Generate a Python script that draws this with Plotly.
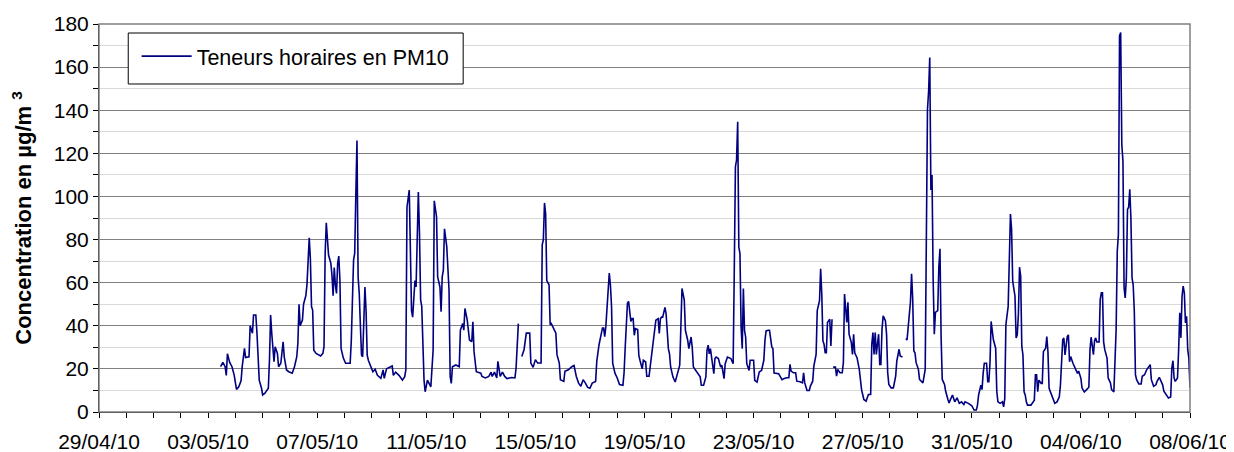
import pandas as pd
import plotly.graph_objects as go

# Hours since 29/04/2010 00:00 and hourly PM10 concentrations (µg/m3); None = missing data
hours = [107, 109, 111, 112, 113, 114, 115, 117, 119, 120, 121, 123, 125, 126, 128, 129, 132, 133, 135, 136,
         138, 139, 140, 141, 143, 144, 146, 149, 150, 151, 152, 154, 155, 157, 158, 160, 162, 163, 165, 167,
         170, 172, 174, 175, 176, 177, 179, 180, 182, 183, 185, 186, 187, 188, 189, 191, 195, 197, 198, 199,
         200, 202, 204, 205, 206, 207, 208, 209, 210, 211, 212, 213, 215, 217, 221, 222, 224, 225, 226, 227,
         228, 229, 230, 231, 232, 233, 234, 235, 236, 237, 239, 241, 243, 245, 248, 250, 251, 253, 258, 259,
         261, 264, 267, 269, 270, 271, 273, 274, 275, 276, 278, 279, 280, 281, 282, 283, 284, 286, 287, 289,
         292, 294, 295, 297, 298, 300, 301, 302, 303, 304, 306, 307, 308, 309, 310, 311, 314, 317, 318, 320,
         321, 322, 324, 326, 328, 329, 330, 332, 336, 337, 340, 343, 345, 346, 348, 350, 351, 353, 355, 357,
         359, 363, 366, 367, 368, 369, 370, 372, 374, 376, 379, 380, 382, 384, 386, 389, 390, 391, 392, 393,
         394, 396, 397, 398, 400, 402, 403, 405, 406, 409, 410, 413, 416, 418, 420, 422, 424, 426, 428, 430,
         432, 434, 437, 438, 440, 441, 443, 444, 445, 446, 447, 449, 450, 451, 452, 454, 456, 458, 461, 462,
         463, 464, 465, 466, 468, 469, 470, 471, 472, 474, 475, 476, 478, 479, 481, 482, 484, 485, 487, 488,
         489, 490, 492, 493, 494, 495, 496, 498, 499, 501, 502, 503, 505, 507, 509, 511, 512, 513, 515, 516,
         518, 519, 521, 522, 523, 525, 527, 529, 530, 532, 534, 535, 536, 537, 538, 540, 541, 542, 543, 545,
         547, 548, 550, 551, 553, 556, 558, 559, 560, 561, 562, 563, 564, 565, 566, 567, 568, 569, 570, 572,
         573, 576, 577, 579, 581, 583, 585, 586, 587, 589, 590, 592, 593, 594, 596, 598, 600, 601, 603, 605,
         607, 608, 609, 611, 613, 614, 617, 619, 620, 621, 623, 625, 626, 628, 629, 631, 632, 634, 635, 636,
         637, 638, 639, 640, 641, 643, 644, 645, 645.5, 646, 648, 649, 650, 652, 654, 655, 656, 658, 659, 660,
         662, 663, 664, 665, 667, 669, 670, 671, 673, 675, 677, 679, 680, 681, 682, 683, 684, 686, 687, 688,
         689, 690, 692, 693, 694, 695, 697, 699, 701, 702, 704, 705, 707, 708, 710, 711, 712, 713, 714, 715,
         716, 717, 718, 719, 721, 722, 724, 725, 727, 728, 729, 730, 731, 732, 733, 734, 735, 736, 738, 739,
         740, 741, 742, 744, 745, 747, 748, 749, 751, 753, 755, 757, 759, 761, 762, 765, 768, 770, 772, 773,
         774, 776, 777, 778, 779, 781, 782, 783, 784, 785, 786, 787, 789, 790, 791, 793, 795, 796, 797, 798,
         800, 801, 802, 803, 804, 806, 807, 808, 809, 810, 811, 812, 813, 814, 815, 816, 817, 820, 821, 823,
         824, 825, 826, 827, 829, 830, 831, 833, 834, 835, 836, 837, 839, 841, 843, 845, 846, 848, 849, 850,
         852, 853, 854, 855, 857, 859, 861, 862, 864, 865, 867, 869, 871, 872, 873, 875, 876, 877, 878, 880,
         881, 882, 883, 884, 885, 887, 888, 890, 891, 893, 894, 895, 896, 897, 898, 899, 900, 901, 902, 903,
         904, 905, 906, 907, 908, 909, 910, 911, 912, 913, 915, 917, 918, 920, 922, 924, 925, 926, 928, 930,
         931, 933, 934, 936, 937, 939, 941, 943, 944, 945, 946, 947, 949, 950, 951, 952, 953, 954, 955, 956,
         957, 958, 959, 960]

pm10 = [21, 23, 21, 17, 27, 24, 23, 21, 17, 13.6, 10.5, 11.7, 14.5, 21, 29.5, 25.3, 25.6, 40, 36.5, 45,
        45, 36.5, 27.2, 14.8, 11, 7.9, 8.7, 11, 24, 45, 36.5, 23.3, 30.3, 27.2, 21, 22.6, 32.6, 25.6, 19.5, 18.7,
        18, 21, 25.6, 31.8, 50, 40, 42.7, 50, 54, 59, 80.8, 71, 48.8, 47.3, 28.7, 27.2, 26, 27.2, 30.3, 73.6,
        87.8, 72.8, 69, 63.5, 54, 67, 59, 55, 69, 72.3, 61, 29.5, 25, 22.6, 22.6, 33, 70.5, 73.6, 101, 126,
        62.7, 55, 40, 26.4, 25.6, 41, 58, 47, 26.4, 24, 21, 18.7, 19.8, 17, 15.6, 19.5, 15.6, 20, 21.3, 17,
        18.5, 17, 14.8, 16.4, 19.5, 95, 103, 69, 47, 44, 61, 58, 86, 102, 83, 52, 49, 14.8, 9.4, 14.8,
        11.7, 28.7, 98, 90.6, 62.7, 58, 46.5, 62.7, 65.8, 85, 76.7, 62.7, 56.6, 16.4, 13.3, 21, 21.8, 21, 38, 41,
        38, 48, 42.7, 33.4, 32.6, 41.9, 28, 18.7, 18, 16.5, 15.8, 16.5, 18.5, 16.5, 18.5, 15.8, 23.5, 16.5, 18.5, 16.5,
        15.5, 16, 15.8, 20.4, 34.3, 41, None, 25.8, 28.9, 36.6, 36.6, 22.7, 20.7, 24.3, 22.7, 22.7, 77.6, 80, 97, 92,
        61, 59, 40.5, 41, 39, 36.6, 26.6, 22.7, 15, 14.2, 18.9, 19.6, 21, 21.6, 16.5, 13.4, 11.9, 15, 13.4, 11.4,
        11, 13.4, 14.2, 23.5, 31.2, 33.5, 39, 39, 35, 39.7, 47.4, 64.5, 59, 49, 22.7, 18, 15.8, 12.7, 12.4, 18,
        29.7, 39.7, 50.5, 51.3, 42, 43.3, 43.3, 35.6, 38.7, 38.3, 26.3, 24, 20, 24, 23.2, 16.6, 16.6, 20.9, 29.4, 34,
        37.9, 42.6, 43.3, 36.4, 43.3, 44, 44, 48.5, 45.7, 29.4, 27, 20.9, 16.3, 13.9, 17.8, 21.7, 39.5, 57.3, 51.9, 37.9,
        33.3, 29.4, 34.8, 30, 20.9, 19.3, 17.8, 16.3, 12.4, 12.4, 16.3, 28.6, 31, 27, 29.4, 22.4, 17.8, 24.8, 25.5, 24.8,
        20.9, 21.7, 15.5, 22.4, 25.5, 24.8, 22.4, 65.8, 113.8, 116.9, 134.7, 76.6, 73.5, 39.5, 29.4, 57.3, 37.9, 34.8, 22.4, 19.3,
        24, 24, 14.7, 13.9, 18.6, 19.3, 24, 33.3, 37.6, 37.9, 37.9, 30.2, 29.4, 18.1, 17.8, 17.8, 15.9, 15, 15.5, 15.9,
        15.9, 22.1, 19, 18.2, 18.2, 14.3, 14, 13.5, 18.2, 13.5, 10, 10, 12, 14.3, 21.3, 26.7, 47, 51.6, 66.4, 54.7,
        33, 31.4, 27.5, 27.5, 41.5, 43, 30.6, 43, None, 20.8, 20.8, 16.6, 19.8, 18.2, 18.2, 22.9, 54.7, 41.5, 50.9, 36.1,
        32.2, 26.7, 36.1, 27.5, 25.2, 19.8, 12.8, 10.4, 5.8, 5, 8.1, 8.1, 31.4, 36.9, 26.7, 36.9, 26.7, 36.1, 22.1, 22.1,
        38.4, 44.6, 42.3, 36.1, 18.2, 12.8, 11.2, 11.2, 16.6, 23.6, 29.1, 26, 25.5, None, 34.1, 33.4, 39.2, 43.9, 50.9, 64.1,
        52.4, 28.3, 27.5, 22.9, 19.8, 15.1, 14.3, 13.5, 19.8, 82.7, 140.3, 148.8, 164.4, 103, 110, 61, 36.1, 46.2, 47, 67.2,
        75.7, 34.5, 15.1, 12.8, 9.6, 5.8, 4.2, 5.5, 7.9, 4.7, 6.6, 4, 4.7, 3.5, 4.7, 4, 2.9, 0.9, 0.9, 3.2,
        7.9, 12.5, 10.4, 18, 22.6, 22.6, 14, 14, 22.6, 42, 35.8, 33.5, 29.6, 9.4, 4.7, 4, 4.7, 2.4, 6.2, 40.5,
        49, 70, 91.8, 84.8, 60.7, 53.7, 34.3, 35.8, 45.2, 67.2, 63, 30.4, 26.5, 9.4, 7.9, 4.7, 3.2, 3.2, 4, 5.5,
        17.2, 17.2, 9.4, 14.8, 13.3, 13.3, 28, 29.6, 35, 28, 11, 9.4, 6.2, 4, 4.7, 7, 12.5, 33.5, 34.3, 26.5,
        35, 35.8, 23.3, 25.7, 22.6, 20.3, 17.9, 19, 15.6, 11.1, 9.3, 10.4, 11.5, 28.9, 34.7, 26.6, 33, 34.4, 32.5, 32.5,
        52.2, 55.3, 55.3, 32.5, 28.9, 25, 15.8, 13.5, 10.4, 9.3, 30.5, 38.2, 74.6, 82.4, 174.5, 176, 124, 116.4, 57.6, 52.9,
        62.2, 94, 95, 103.3, 90, 62.2, 59, 46.7, 17.3, 15, 13, 13, 16.6, 17.3, 19.7, 21.2, 22, 15, 11.9, 12.6,
        14.2, 16.1, 14.6, 12.5, 9.6, 8, 6.5, 7, 20.4, 23.8, 15.8, 14.2, 15.8, 28.9, 46, 34.4, 53.7, 58.4, 55.3, 41.3,
        44.4, 28.9, 25, 11.1]

start_date = "2010-04-29"
end_date = "2010-06-08"
series_name = "Teneurs horaires en PM10"
y_title = "Concentration en µg/m <sup>3</sup>"

times = pd.Timestamp(start_date) + pd.to_timedelta(hours, unit="h")

FONT = "Liberation Sans, Arial, sans-serif"
DAY_MS = 86400000

fig = go.Figure()
fig.add_trace(go.Scatter(
    x=times, y=pm10, mode="lines", name=series_name,
    line=dict(color="#000080", width=1.6), connectgaps=False,
    showlegend=True,
))

# the page body adds an 8 px margin, so the figure is 8 px smaller than the window
fig.update_layout(
    width=1226, height=444,
    margin=dict(l=91, r=44, t=16, b=40),
    paper_bgcolor="white", plot_bgcolor="white",
    font=dict(family=FONT, size=21, color="black"),
    showlegend=True,
    legend=dict(
        x=0.0345, y=0.970, xanchor="left", yanchor="top",
        bgcolor="rgba(0,0,0,0)", borderwidth=0,
        font=dict(family=FONT, size=21.5, color="black"),
        itemwidth=50,
    ),
    xaxis=dict(
        type="date",
        range=[start_date, end_date],
        tick0=start_date, dtick=4 * DAY_MS,
        tickformat="%d/%m/%y",
        showgrid=False,
        showline=True, linecolor="black", linewidth=1,
        ticks="outside", ticklen=5, tickcolor="black",
        minor=dict(dtick=DAY_MS, tick0=start_date, ticks="outside", ticklen=5, tickcolor="black", showgrid=False),
        tickfont=dict(family=FONT, size=21, color="black"),
        ticklabelstandoff=6,
        zeroline=False, automargin=False,
    ),
    yaxis=dict(
        range=[0, 180],
        dtick=20, tick0=0,
        showgrid=True, gridcolor="#808080", gridwidth=1,
        showline=True, linecolor="black", linewidth=1,
        ticks="outside", ticklen=5, tickcolor="black",
        minor=dict(dtick=10, tick0=0, ticks="outside", ticklen=5, tickcolor="black",
                   showgrid=True, gridcolor="#d9d9d9", gridwidth=1),
        tickfont=dict(family=FONT, size=21, color="black"),
        zeroline=False, automargin=False,
        title=dict(text=y_title, font=dict(family=FONT, size=22, color="black", weight="bold"), standoff=16),
    ),
    shapes=[
        # plot area border (top / right in grey)
        dict(type="rect", xref="paper", yref="paper", x0=0, x1=1, y0=0, y1=1,
             line=dict(color="#808080", width=1.5), fillcolor="rgba(0,0,0,0)", layer="above"),
        # legend frame
        dict(type="rect", xref="paper", yref="paper", x0=0.0268, x1=0.3338, y0=0.8454, y1=0.9768,
             line=dict(color="black", width=1), fillcolor="white", layer="above"),
    ],
)

fig.write_html("out.html")
